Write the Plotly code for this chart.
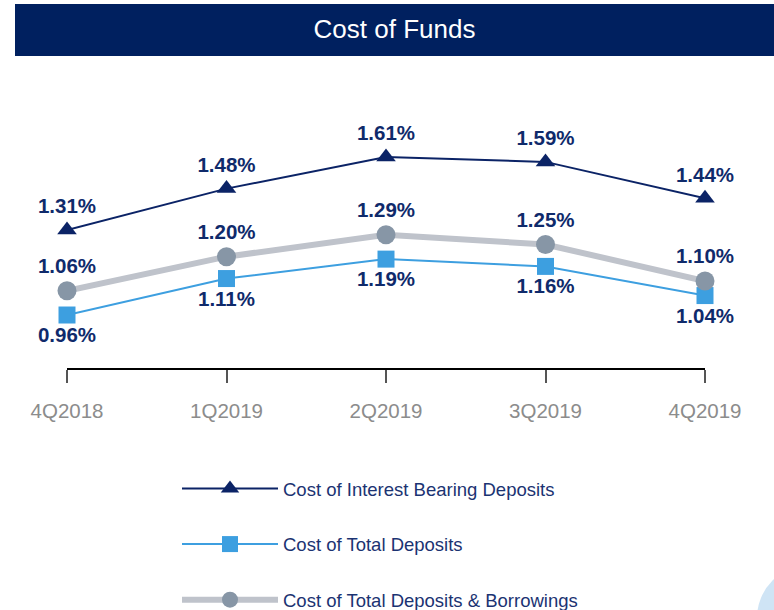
import plotly.graph_objects as go

categories = ["4Q2018", "1Q2019", "2Q2019", "3Q2019", "4Q2019"]
interest_bearing = [1.31, 1.48, 1.61, 1.59, 1.44]
total_deposits = [0.96, 1.11, 1.19, 1.16, 1.04]
deposits_borrowings = [1.06, 1.20, 1.29, 1.25, 1.10]

NAVY = "#0b2366"
LBLUE = "#3d9fe0"
GRAYL = "#bfc3cb"
GRAYM = "#8796a6"
LABEL = "#0f2a6b"
FONT = "Liberation Sans, Arial, sans-serif"

x = list(range(len(categories)))
W, H = 774, 610
ML, MR, MT, MB = 67, 69, 70, 242
PW, PH = W - ML - MR, H - MT - MB

def px_x(p):
    return (p - ML) / PW

def px_y(p):
    return (H - MB - p) / PH

label_font = dict(family=FONT, size=20.5, color=LABEL, weight="bold")

fig = go.Figure()
fig.add_trace(go.Scatter(
    x=x, y=interest_bearing, name="Cost of Interest Bearing Deposits",
    mode="lines+markers+text", legendgroup="a",
    line=dict(color=NAVY, width=2),
    marker=dict(symbol="triangle-up", size=17, color=NAVY),
    text=[f"{v:.2f}%" for v in interest_bearing], textposition="top center",
    textfont=label_font, cliponaxis=False,
))
fig.add_trace(go.Scatter(
    x=x, y=total_deposits, name="Cost of Total Deposits",
    mode="lines+markers+text", legendgroup="b",
    line=dict(color=LBLUE, width=2),
    marker=dict(symbol="square", size=17, color=LBLUE),
    text=[f"{v:.2f}%" for v in total_deposits], textposition="bottom center",
    textfont=label_font, cliponaxis=False,
))
fig.add_trace(go.Scatter(
    x=x, y=deposits_borrowings, name="Cost of Total Deposits & Borrowings",
    mode="lines+markers+text", legendgroup="c",
    line=dict(color=GRAYL, width=6),
    marker=dict(symbol="circle", size=19, color=GRAYM),
    text=[f"{v:.2f}%" for v in deposits_borrowings], textposition="top center",
    textfont=label_font, cliponaxis=False,
))

fig.update_layout(
    width=W, height=H,
    margin=dict(l=ML, r=MR, t=MT, b=MB, autoexpand=False),
    paper_bgcolor="white", plot_bgcolor="white",
    font=dict(family=FONT),
    title=dict(text="Cost of Funds", x=(15 + 774) / 2 / W, xanchor="center",
               y=1 - 29 / H, yanchor="middle",
               font=dict(size=26, color="white", family=FONT)),
    xaxis=dict(range=[0, 4], tickvals=x, ticktext=categories, showgrid=False, zeroline=False,
               showline=True, linecolor="black", linewidth=2, ticks="outside", ticklen=13,
               tickcolor="#555555", tickwidth=1.5, ticklabelstandoff=10,
               tickfont=dict(size=20.5, color="#8c8c8c")),
    yaxis=dict(range=[0.742, 1.968], visible=False),
    showlegend=True,
    legend=dict(xref="container", yref="container",
                x=177 / W, xanchor="left", y=1 - 470 / H, yanchor="top",
                orientation="v", tracegroupgap=28.5, itemwidth=96,
                font=dict(size=18.5, color="#1b3372"), bgcolor="rgba(0,0,0,0)"),
    shapes=[
        dict(type="rect", xref="paper", yref="paper", layer="below",
             x0=px_x(15), x1=px_x(780), y0=px_y(56), y1=px_y(4),
             fillcolor="#00205f", line=dict(width=0)),
        dict(type="circle", xref="paper", yref="paper", layer="below",
             x0=px_x(757), x1=px_x(863), y0=px_y(671), y1=px_y(565),
             fillcolor="#cfe4f5", line=dict(width=0)),
    ],
)

fig.write_html("out.html", config={"displayModeBar": False},
               post_script="document.body.style.margin='0';")
